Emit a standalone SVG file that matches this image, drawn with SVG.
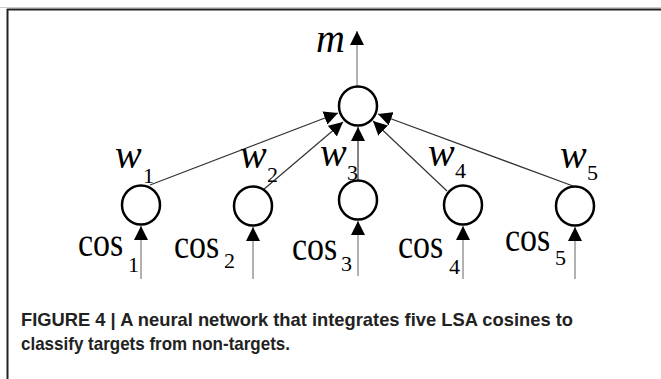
<svg xmlns="http://www.w3.org/2000/svg" width="661" height="379" viewBox="0 0 661 379">
<style>
.node{fill:#fff;stroke:#000;stroke-width:2.5}
.edge{stroke:#333;stroke-width:1.2;fill:none}
.io{stroke:#999;stroke-width:1.5;fill:none}
.lab{font-family:"Liberation Serif","Times New Roman",serif;font-style:italic;font-size:40px;fill:#000}
.sub{font-family:"Liberation Serif","Times New Roman",serif;font-size:22px;fill:#000}
.cos{font-family:"Liberation Serif","Times New Roman",serif;font-size:34px;fill:#000}
.cap{font-family:"Liberation Sans",Arial,sans-serif;font-weight:bold;font-size:19px;fill:#222}
</style>
<defs>
<marker id="ah" markerUnits="userSpaceOnUse" markerWidth="14" markerHeight="14" viewBox="0 0 14 14" refX="14" refY="7" orient="auto">
<path d="M0,0 L14,7 L0,14 z" fill="#000"/>
</marker>
</defs>
<rect width="661" height="379" fill="#fff"/>
<line x1="0" y1="7.5" x2="661" y2="7.5" stroke="#ccc" stroke-width="1"/>
<line x1="7" y1="9.5" x2="661" y2="9.5" stroke="#222" stroke-width="2"/>
<line x1="7.5" y1="9" x2="7.5" y2="379" stroke="#222" stroke-width="2"/>

<g id="connectors">
<line class="io" x1="357" y1="87" x2="357" y2="31" marker-end="url(#ah)"/>
<line class="edge" x1="150" y1="185" x2="338" y2="113" marker-end="url(#ah)"/>
<line class="edge" x1="263" y1="190" x2="343" y2="122" marker-end="url(#ah)"/>
<line class="edge" x1="358" y1="180" x2="358" y2="127" marker-end="url(#ah)"/>
<line class="edge" x1="447" y1="191" x2="373" y2="121" marker-end="url(#ah)"/>
<line class="edge" x1="573" y1="186" x2="378" y2="114" marker-end="url(#ah)"/>
<line class="io" x1="141" y1="279" x2="141" y2="226" marker-end="url(#ah)"/>
<line class="io" x1="253" y1="279" x2="253" y2="227" marker-end="url(#ah)"/>
<line class="io" x1="358" y1="276" x2="358" y2="221" marker-end="url(#ah)"/>
<line class="io" x1="463" y1="279" x2="463" y2="226" marker-end="url(#ah)"/>
<line class="io" x1="575" y1="279" x2="575" y2="227" marker-end="url(#ah)"/>
</g>

<g id="output">
<ellipse class="node" cx="358" cy="106" rx="19" ry="19.5"/>
<text class="lab" x="316" y="52">m</text>
</g>

<g id="input1">
<ellipse class="node" cx="141" cy="205" rx="19" ry="19.5"/>
<text class="lab" x="115" y="168">w</text><text class="sub" x="143" y="183">1</text>
<text class="cos" transform="translate(78,256) scale(1,1.15)">cos</text><text class="sub" x="128" y="272">1</text>
</g>
<g id="input2">
<ellipse class="node" cx="253" cy="206" rx="19" ry="19.5"/>
<text class="lab" x="240" y="168">w</text><text class="sub" x="267" y="182">2</text>
<text class="cos" transform="translate(174,258) scale(1,1.15)">cos</text><text class="sub" x="224" y="268">2</text>
</g>
<g id="input3">
<ellipse class="node" cx="358" cy="200" rx="19" ry="19.5"/>
<text class="lab" x="320" y="166">w</text><text class="sub" x="347" y="180">3</text>
<text class="cos" transform="translate(292,260) scale(1,1.15)">cos</text><text class="sub" x="341" y="271">3</text>
</g>
<g id="input4">
<ellipse class="node" cx="463" cy="205" rx="19" ry="19.5"/>
<text class="lab" x="428" y="166">w</text><text class="sub" x="455" y="178">4</text>
<text class="cos" transform="translate(398,258) scale(1,1.15)">cos</text><text class="sub" x="449" y="274">4</text>
</g>
<g id="input5">
<ellipse class="node" cx="575" cy="206" rx="19" ry="19.5"/>
<text class="lab" x="560" y="168">w</text><text class="sub" x="587" y="180">5</text>
<text class="cos" transform="translate(505,251) scale(1,1.15)">cos</text><text class="sub" x="555" y="265">5</text>
</g>

<g id="caption">
<text class="cap" x="21" y="326" textLength="552" lengthAdjust="spacingAndGlyphs">FIGURE 4 | A neural network that integrates five LSA cosines to</text>
<text class="cap" x="21" y="350" textLength="269" lengthAdjust="spacingAndGlyphs">classify targets from non-targets.</text>
</g>
</svg>
